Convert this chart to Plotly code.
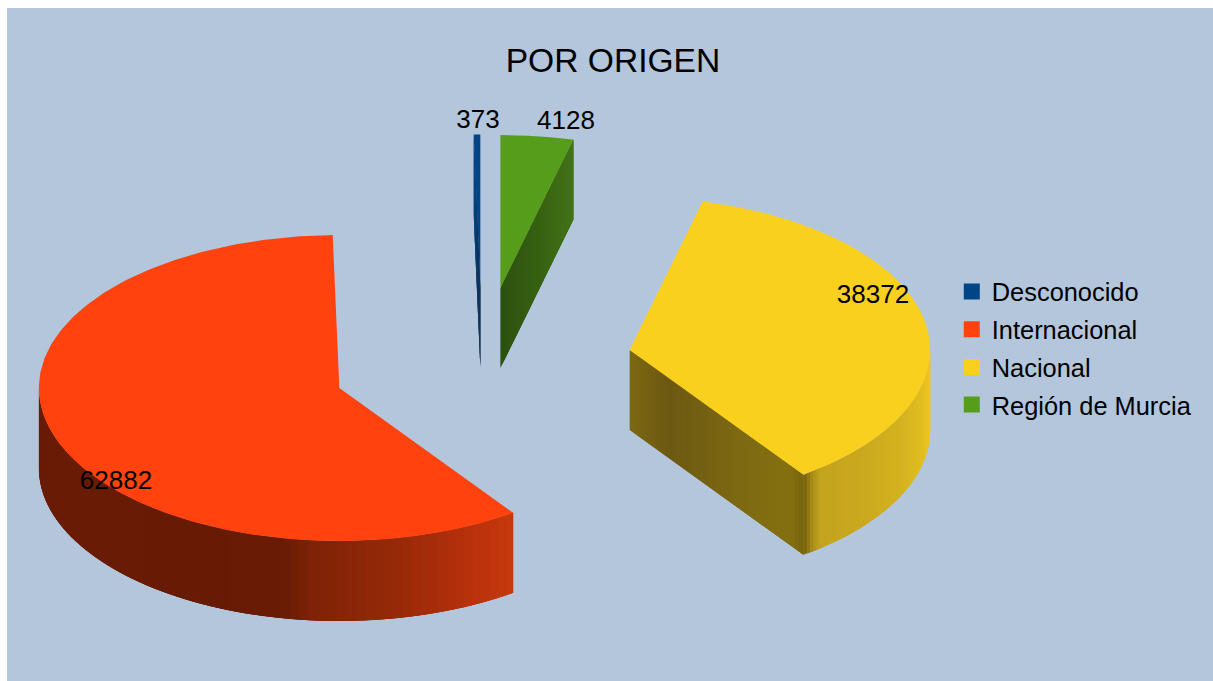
import numpy as np
import plotly.graph_objects as go

# ---- data ----
categories = ["Desconocido", "Internacional", "Nacional", "Región de Murcia"]
values = [373, 62882, 38372, 4128]

# ---- style ----
top_colors = ["#004586", "#ff420e", "#fad01f", "#579d1c"]
TITLE = "POR ORIGEN"
BG = "#b3c6dc"
FONT = "Liberation Sans, Arial, sans-serif"
W, H = 1213, 681
PANEL_L, PANEL_T = 7, 8
CX, CY, RX, RY, DEPTH, EXPLODE = 482, 364, 300.5, 153, 80, 0.5
label_anchor = [(478, 121), (116, 482), (873, 296), (566, 122)]
# shading of side walls: stops of (screen x, colour)
arc_shade = {
    "Internacional": [(39, "#6a1c06"), (200, "#671b05"), (285, "#6a1c05"), (310, "#7e2307"),
                      (400, "#982a09"), (470, "#b8320c"), (513, "#c8390e")],
    "Nacional": [(805, "#7c670f"), (812, "#a88c18"), (820, "#c4a41e"), (860, "#cba91f"),
                 (900, "#d4b220"), (922, "#e2be20"), (931, "#f0c820")],
}
cut_shade = {
    "Desconocido": [(474, "#004586"), (478, "#0b315c"), (481, "#1a3150")],
    "Internacional": None,
    "Nacional": [(631, "#7c6712"), (670, "#6d5913"), (740, "#7e6a12"), (790, "#857010"), (805, "#77620d")],
    "Región de Murcia": [(500, "#2c5110"), (540, "#386213"), (573, "#427317")],
}


def hex2rgb(c):
    return np.array([int(c[i:i + 2], 16) for i in (1, 3, 5)], float)


def shade(stops, x):
    xs = [s[0] for s in stops]
    rgb = np.array([hex2rgb(s[1]) for s in stops])
    return "rgb(%d,%d,%d)" % tuple(np.interp(x, xs, rgb[:, k]) for k in range(3))


def ell(cx, cy, t):
    return cx + RX * np.cos(t), cy - RY * np.sin(t)


fig = go.Figure()


def poly(xs, ys, color):
    fig.add_trace(go.Scatter(x=xs, y=ys, mode="lines", fill="toself", fillcolor=color,
                             line=dict(color=color, width=0), hoverinfo="skip", showlegend=False))


def wall(px, py, stops):
    """Paint a wall along a path as overlapping strips, so no seams show."""
    n = len(px) - 1
    for k in range(n):
        j = min(k + 3, n)
        poly([px[k], *px[k + 1:j + 1], *px[k:j + 1][::-1], px[k]],
             [py[k], *py[k + 1:j + 1], *[v + DEPTH for v in py[k:j + 1][::-1]], py[k]],
             shade(stops, (px[k] + px[k + 1]) / 2))


total = sum(values)
spans = {}
a = np.pi / 2
for name, v in zip(categories, values):
    b = a + 2 * np.pi * v / total
    spans[name] = (a, b)
    a = b

# back-to-front order
for name in ["Desconocido", "Región de Murcia", "Internacional", "Nacional"]:
    i = categories.index(name)
    t0, t1 = spans[name]
    mid = (t0 + t1) / 2
    cx = CX + EXPLODE * RX * np.cos(mid)
    cy = CY - EXPLODE * RY * np.sin(mid)

    # flat cut wall facing the viewer
    stops = cut_shade[name]
    if stops is not None:
        edge_t = t1 if name == "Desconocido" else t0
        ex, ey = ell(cx, cy, edge_t)
        fr = np.linspace(0, 1, 41)
        px, py = cx + (ex - cx) * fr, cy + (ey - cy) * fr
        # always paint left to right
        if px[0] > px[-1]:
            px, py = px[::-1], py[::-1]
        wall(list(px), list(py), stops)

    # outer curved wall (front half only)
    stops = arc_shade.get(name)
    if stops is not None:
        lo = max(t0, np.pi) if name == "Internacional" else t0
        hi = t1 if name == "Internacional" else 2 * np.pi
        ts = np.linspace(lo, hi, 71)
        px, py = ell(cx, cy, ts)
        wall(list(px), list(py), stops)

    # top face
    ts = np.linspace(t0, t1, 240)
    xs, ys = ell(cx, cy, ts)
    poly([cx, *xs, cx], [cy, *ys, cy], top_colors[i])

# value labels
fig.add_trace(go.Scatter(
    x=[p[0] for p in label_anchor], y=[p[1] for p in label_anchor],
    mode="text", text=[str(v) for v in values], textposition="middle center",
    textfont=dict(family=FONT, size=26, color="black"),
    hoverinfo="skip", showlegend=False))

# legend entries
for name, col in zip(categories, top_colors):
    fig.add_trace(go.Scatter(x=[None], y=[None], mode="markers", name=name, legendgroup=name,
                             marker=dict(symbol="square", size=16, color=col)))

fig.update_layout(
    width=W, height=H, autosize=False,
    margin=dict(l=PANEL_L, t=PANEL_T, r=0, b=0, pad=0),
    paper_bgcolor="white", plot_bgcolor=BG,
    xaxis=dict(visible=False, range=[PANEL_L, W], fixedrange=True),
    yaxis=dict(visible=False, range=[H, PANEL_T], fixedrange=True),
    title=dict(text=TITLE, font=dict(family=FONT, size=33.6, color="black"),
               x=609.5 / W, xanchor="center", xref="paper", y=1 - 60 / H, yanchor="middle", yref="container"),
    legend=dict(x=0.7834, y=0.613, xanchor="left", yanchor="top", bgcolor="rgba(0,0,0,0)",
                font=dict(family=FONT, size=25.4, color="black"),
                tracegroupgap=1.7, traceorder="grouped", itemclick=False, itemdoubleclick=False),
    showlegend=True,
)
fig.write_html("out.html", config={"displayModeBar": False},
               post_script="document.body.style.margin='0';document.body.style.overflow='hidden';")
